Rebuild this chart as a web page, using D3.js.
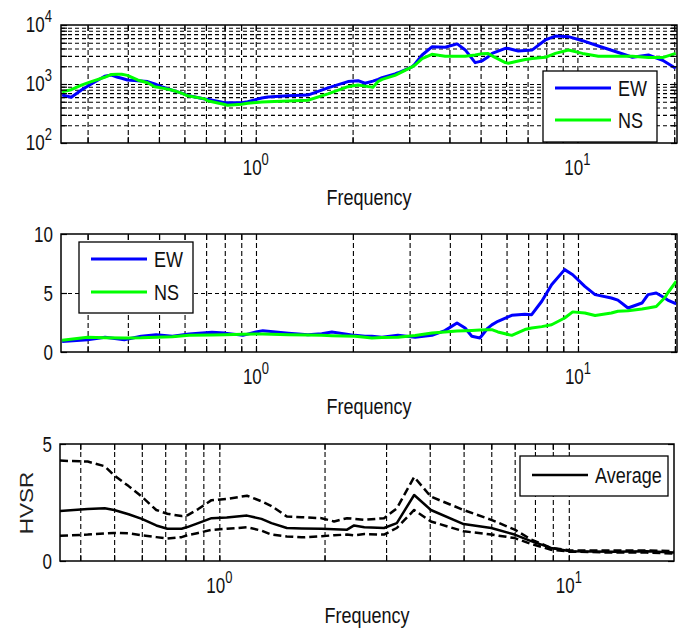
<!DOCTYPE html>
<html>
<head>
<meta charset="utf-8">
<script src="https://d3js.org/d3.v7.min.js"></script>
<style>
body { margin: 0; background: #fff; }
</style>
</head>
<body>
<script>
// spectra
var topFreq = [0.25, 0.267, 0.287, 0.308, 0.339, 0.356, 0.372, 0.383, 0.399, 0.429, 0.461, 0.485, 0.509, 0.547, 0.588, 0.614, 0.694, 0.708, 0.80, 0.818, 0.904, 0.944, 1.044, 1.09, 1.258, 1.452, 1.676, 1.935, 2.08, 2.186, 2.313, 2.4, 2.47, 2.71, 2.77, 3.06, 3.13, 3.29, 3.53, 3.88, 4.23, 4.48, 4.81, 5.06, 5.28, 5.43, 5.97, 6.10, 6.55, 6.89, 7.24, 7.95, 8.54, 9.38, 10.37, 11.62, 13.12, 14.83, 16.63, 18.4, 20.2];
var topEW = [650, 595, 790, 1000, 1350, 1420, 1300, 1250, 1170, 1140, 1100, 1000, 900, 790, 700, 640, 555, 550, 480, 480, 480, 500, 580, 600, 630, 650, 860, 1100, 1140, 1030, 1120, 1200, 1280, 1480, 1550, 1960, 2200, 3100, 4270, 4200, 4780, 3780, 2300, 2470, 2900, 3300, 4020, 4000, 3620, 3700, 3780, 5580, 6500, 6350, 5420, 4400, 3550, 2840, 3100, 2520, 1850];
var topNS = [740, 800, 960, 1100, 1300, 1450, 1460, 1460, 1400, 1170, 1050, 900, 860, 790, 700, 630, 560, 520, 450, 435, 455, 470, 495, 500, 515, 530, 680, 900, 960, 920, 880, 1100, 1200, 1400, 1480, 1950, 2100, 2700, 3180, 2960, 2960, 2960, 3100, 3250, 3300, 3000, 2300, 2240, 2450, 2600, 2700, 2830, 3300, 3780, 3300, 2960, 2960, 2950, 2800, 2800, 3300];

var midFreq = [0.25, 0.30, 0.34, 0.39, 0.44, 0.49, 0.55, 0.62, 0.73, 0.80, 0.91, 1.0, 1.05, 1.26, 1.45, 1.6, 1.72, 2.03, 2.18, 2.29, 2.46, 2.76, 3.12, 3.52, 3.86, 4.21, 4.46, 4.68, 4.96, 5.25, 5.4, 5.64, 6.23, 6.84, 7.18, 7.72, 8.28, 9.09, 9.63, 10.5, 11.3, 12.7, 13.3, 14.3, 15.8, 16.5, 17.5, 18.6, 19.0, 20.2];
var midEW = [0.9, 1.04, 1.25, 1.04, 1.33, 1.47, 1.33, 1.53, 1.67, 1.6, 1.41, 1.7, 1.81, 1.6, 1.47, 1.55, 1.69, 1.41, 1.33, 1.33, 1.25, 1.41, 1.25, 1.41, 1.81, 2.46, 2.03, 1.33, 1.19, 2.03, 2.3, 2.6, 3.11, 3.2, 3.16, 4.3, 5.7, 6.98, 6.55, 5.56, 4.86, 4.58, 4.4, 3.73, 4.15, 4.86, 5.0, 4.58, 4.4, 4.07];
var midNS = [1.0, 1.25, 1.2, 1.18, 1.2, 1.25, 1.3, 1.41, 1.45, 1.47, 1.5, 1.53, 1.52, 1.47, 1.44, 1.41, 1.38, 1.33, 1.25, 1.18, 1.22, 1.25, 1.4, 1.61, 1.7, 1.78, 1.81, 1.83, 1.86, 1.89, 1.89, 1.7, 1.41, 1.9, 2.03, 2.15, 2.31, 2.88, 3.4, 3.3, 3.1, 3.3, 3.45, 3.5, 3.65, 3.73, 3.85, 4.6, 5.0, 6.0];

var avgFreq = [0.35, 0.42, 0.47, 0.50, 0.55, 0.60, 0.66, 0.71, 0.78, 0.81, 0.87, 0.95, 1.05, 1.2, 1.32, 1.41, 1.56, 1.72, 1.96, 2.13, 2.32, 2.43, 2.6, 2.96, 3.22, 3.61, 4.03, 5.0, 6.0, 7.0, 7.8, 8.9, 10.1, 13.4, 16.7, 20];
var avgMean = [2.14, 2.22, 2.25, 2.18, 2.0, 1.8, 1.52, 1.38, 1.38, 1.45, 1.62, 1.83, 1.86, 1.94, 1.8, 1.62, 1.41, 1.39, 1.38, 1.36, 1.34, 1.52, 1.44, 1.41, 1.62, 2.82, 2.18, 1.58, 1.41, 1.13, 0.85, 0.56, 0.42, 0.40, 0.42, 0.36];
var avgUpper = [4.29, 4.25, 4.05, 3.66, 3.2, 2.75, 2.18, 2.02, 1.92, 1.95, 2.22, 2.6, 2.65, 2.79, 2.55, 2.35, 1.9, 1.87, 1.83, 1.69, 1.83, 1.8, 1.76, 1.83, 2.25, 3.59, 2.75, 2.18, 1.76, 1.34, 0.92, 0.56, 0.45, 0.45, 0.45, 0.42];
var avgLower = [1.08, 1.13, 1.18, 1.2, 1.18, 1.1, 1.02, 0.96, 1.02, 1.1, 1.2, 1.33, 1.38, 1.44, 1.3, 1.13, 1.05, 1.01, 1.06, 1.1, 1.13, 1.1, 1.15, 1.13, 1.41, 2.18, 1.69, 1.27, 1.13, 0.98, 0.73, 0.48, 0.4, 0.36, 0.36, 0.32];

var seriesNames = ["EW", "NS"];
var avgName = "Average";
var xLabel = "Frequency";
var yLabelBottom = "HVSR";
var topYTicks = [100, 1000, 10000];
var midYTicks = [0, 5, 10];
var botYTicks = [0, 5];

(function() {

    var width = 680, height = 629,
        sy = 1.25; // the picture is a bit stretched vertically

    var svg = d3.select("body").append("svg")
        .attr("width", width)
        .attr("height", height)
        .style("font-family", "'Liberation Sans', Arial, sans-serif");

    var blue = "#0000ff", green = "#00ff00";

    // text with a "10^n" look
    var powLabel = function(g, x, y, exp, anchor) {
        var t = g.append("text")
            .attr("transform", "translate(" + x + "," + y + ") scale(1," + sy + ")")
            .attr("text-anchor", anchor)
            .attr("font-size", 17)
            .attr("fill", "#111");
        t.append("tspan").text("10");
        t.append("tspan").attr("dy", -8).attr("font-size", 13).text(exp);
    };

    var plainText = function(g, x, y, str, anchor, size) {
        return g.append("text")
            .attr("transform", "translate(" + x + "," + y + ") scale(1," + sy + ")")
            .attr("text-anchor", anchor)
            .attr("font-size", size)
            .attr("fill", "#111")
            .text(str);
    };

    var drawPanel = function(p) {
        var g = svg.append("g");
        var w = p.right - p.left, h = p.bottom - p.top;

        var x = d3.scaleLog().domain(p.xdom).range([p.left, p.right]);
        var y = (p.ylog ? d3.scaleLog() : d3.scaleLinear()).domain(p.ydom).range([p.bottom, p.top]);

        var xt = x.ticks().filter(function(v) {
            return x(v) > p.left + 1 && x(v) < p.right - 1;
        });

        var dashLines = function(s, dash) {
            s.select(".domain").remove();
            s.selectAll("line").attr("stroke", "#000").attr("stroke-width", 1.1).attr("stroke-dasharray", dash);
        };
        var plainTicks = function(s) {
            s.select(".domain").remove();
            s.selectAll("line").attr("stroke", "#000").attr("stroke-width", 1.2);
        };

        // grid
        g.append("g")
            .attr("transform", "translate(0," + p.bottom + ")")
            .call(d3.axisBottom(x).tickValues(xt).tickSize(-h).tickFormat(""))
            .call(dashLines, "5,3");

        if (p.ygrid) {
            var yg = p.ygrid.filter(function(v) {
                return y(v) < p.bottom - 1 && y(v) > p.top + 1;
            });
            g.append("g")
                .attr("transform", "translate(" + p.left + ",0)")
                .call(d3.axisLeft(y).tickValues(yg).tickSize(-w).tickFormat(""))
                .call(dashLines, "4,3");
        }

        // curves
        svg.append("clipPath").attr("id", "clip" + p.id)
            .append("rect")
            .attr("x", p.left).attr("y", p.top)
            .attr("width", w).attr("height", h);

        var line = d3.line()
            .x(function(d) { return x(d[0]); })
            .y(function(d) { return y(d[1]); });

        p.series.forEach(function(s) {
            g.append("path")
                .datum(d3.zip(s.f, s.v))
                .attr("d", line)
                .attr("clip-path", "url(#clip" + p.id + ")")
                .attr("fill", "none")
                .attr("stroke", s.color)
                .attr("stroke-width", s.width)
                .attr("stroke-dasharray", s.dash || null)
                .attr("stroke-linejoin", "round");
        });

        // inward ticks
        g.append("g").attr("transform", "translate(0," + p.bottom + ")")
            .call(d3.axisBottom(x).tickValues(xt).tickSize(-6).tickFormat("")).call(plainTicks);
        g.append("g").attr("transform", "translate(0," + p.top + ")")
            .call(d3.axisTop(x).tickValues(xt).tickSize(-6).tickFormat("")).call(plainTicks);
        var yt = (p.ylog ? y.ticks() : p.yticks);
        g.append("g").attr("transform", "translate(" + p.left + ",0)")
            .call(d3.axisLeft(y).tickValues(yt).tickSize(-6).tickFormat("")).call(plainTicks);
        g.append("g").attr("transform", "translate(" + p.right + ",0)")
            .call(d3.axisRight(y).tickValues(yt).tickSize(-6).tickFormat("")).call(plainTicks);

        // frame
        g.append("rect")
            .attr("x", p.left).attr("y", p.top)
            .attr("width", w).attr("height", h)
            .attr("fill", "none")
            .attr("stroke", "#000")
            .attr("stroke-width", 1.5);

        // tick labels
        x.ticks().filter(function(v) {
            return Math.abs(Math.log10(v) - Math.round(Math.log10(v))) < 1e-9;
        }).forEach(function(v) {
            powLabel(g, x(v), p.bottom + 32, String(Math.round(Math.log10(v))), "middle");
        });

        p.yticks.forEach(function(v) {
            if (p.ylog) {
                powLabel(g, p.left - 9, y(v) + 7, String(Math.round(Math.log10(v))), "end");
            } else {
                plainText(g, p.left - 8, y(v) + 7.5, String(v), "end", 17);
            }
        });

        plainText(g, (p.left + p.right) / 2, p.bottom + 62, xLabel, "middle", 18);

        // legend
        var L = p.legend;
        var lg = g.append("g");
        lg.append("rect")
            .attr("x", L.x).attr("y", L.y)
            .attr("width", L.w).attr("height", L.h)
            .attr("fill", "#fff")
            .attr("stroke", "#000")
            .attr("stroke-width", 1.3);
        L.items.forEach(function(it, i) {
            var ly = L.y + L.first + i * L.step;
            lg.append("line")
                .attr("x1", L.x + 12).attr("x2", L.x + 68)
                .attr("y1", ly).attr("y2", ly)
                .attr("stroke", it.color)
                .attr("stroke-width", it.width);
            plainText(lg, L.x + 75, ly + 7.5, it.name, "start", 18);
        });

        return { x: x, y: y };
    };

    // upper panel: log amplitude
    drawPanel({
        id: "a", left: 61, right: 677, top: 25, bottom: 143,
        xdom: [0.248, 20.4], ydom: [100, 10000], ylog: true,
        yticks: topYTicks,
        ygrid: d3.scaleLog().domain([100, 10000]).ticks(),
        series: [
            { f: topFreq, v: topEW, color: blue, width: 3 },
            { f: topFreq, v: topNS, color: green, width: 3 }
        ],
        legend: { x: 543, y: 71, w: 114, h: 71, first: 17, step: 32,
            items: [
                { name: seriesNames[0], color: blue, width: 3 },
                { name: seriesNames[1], color: green, width: 3 }
            ] }
    });

    // middle panel: linear ratio
    drawPanel({
        id: "b", left: 61, right: 677, top: 234, bottom: 352,
        xdom: [0.248, 20.3], ydom: [0, 10], ylog: false,
        yticks: midYTicks,
        ygrid: [5],
        series: [
            { f: midFreq, v: midEW, color: blue, width: 3 },
            { f: midFreq, v: midNS, color: green, width: 3 }
        ],
        legend: { x: 79, y: 242, w: 114, h: 71, first: 17, step: 33,
            items: [
                { name: seriesNames[0], color: blue, width: 3 },
                { name: seriesNames[1], color: green, width: 3 }
            ] }
    });

    // lower panel: average HVSR with bounds
    drawPanel({
        id: "c", left: 60, right: 674, top: 444, bottom: 561,
        xdom: [0.35, 20], ydom: [0, 5], ylog: false,
        yticks: botYTicks,
        ygrid: null,
        series: [
            { f: avgFreq, v: avgUpper, color: "#000", width: 2.5, dash: "8,4" },
            { f: avgFreq, v: avgLower, color: "#000", width: 2.5, dash: "8,4" },
            { f: avgFreq, v: avgMean, color: "#000", width: 2.5 }
        ],
        legend: { x: 520, y: 456, w: 148, h: 40, first: 19, step: 0,
            items: [
                { name: avgName, color: "#000", width: 2.5 }
            ] }
    });

    svg.append("text")
        .attr("transform", "translate(33,503) scale(1," + sy + ") rotate(-90)")
        .attr("text-anchor", "middle")
        .attr("font-size", 18)
        .attr("fill", "#222")
        .text(yLabelBottom);

})();
</script>
</body>
</html>
